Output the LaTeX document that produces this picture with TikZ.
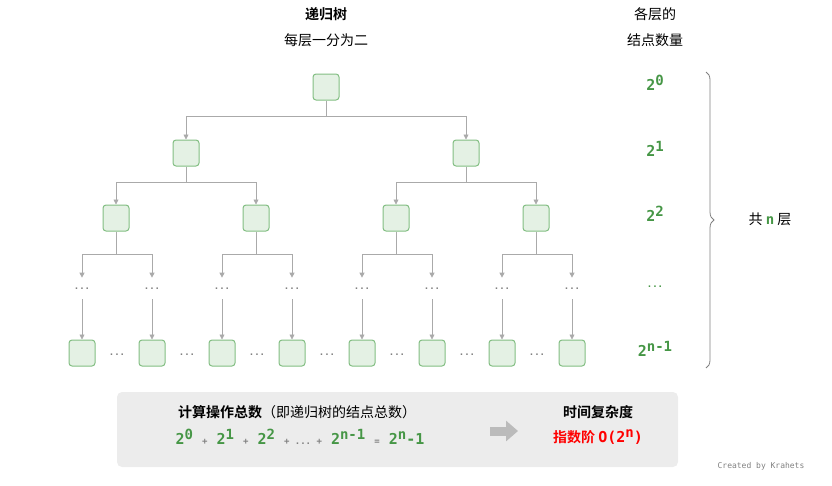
\documentclass[tikz,border=0pt]{standalone}
\usepackage{fontspec}
\setmainfont{Noto Sans CJK SC}
\newfontfamily\cnb{Noto Sans CJK SC Bold}
\newfontfamily\cnr{Noto Sans CJK SC}
\setmonofont{DejaVu Sans Mono}
\usetikzlibrary{positioning}
\usetikzlibrary{arrows.meta}
\usetikzlibrary{decorations.pathreplacing}
\definecolor{boxgreen}{RGB}{228,241,228}
\definecolor{edgegreen}{RGB}{130,190,130}
\definecolor{numgreen}{RGB}{70,150,70}
\definecolor{linegray}{RGB}{170,170,170}
\definecolor{panel}{RGB}{236,236,236}
\newcommand{\sz}{\fontsize{14}{17}\selectfont}
\newcommand{\up}[1]{\raisebox{5pt}{\fontsize{14}{14}\selectfont #1}}
\tikzset{
  treenode/.style={draw=edgegreen,fill=boxgreen,line width=1pt,rounded corners=3pt,minimum width=26pt,minimum height=26pt,inner sep=0pt},
  link/.style={draw=linegray,line width=0.8pt,-{Triangle[width=5pt,length=5pt]}},
  dotstxt/.style={text=gray,font=\ttfamily\bfseries\fontsize{9}{9}\selectfont},
  cnt/.style={text=numgreen,font=\ttfamily\bfseries\fontsize{15}{15}\selectfont}
}
\begin{document}
\begin{tikzpicture}[x=1pt,y=-1pt,font=\sz]
	\useasboundingbox (0,0) rectangle (832,485);
	% headers
	\node [font=\cnb\sz] at (326,14) (title) {递归树};
	\node at (326,40) (subtitle) {每层一分为二};
	\node at (655,14) (hd1) {各层的};
	\node at (655,40) (hd2) {结点数量};

	% tree nodes
	\node [treenode] at (326,87) (n0) {};
	\node [treenode] at (186,153) (n1-1) {};
	\node [treenode] at (466,153) (n1-2) {};
	\foreach \i/\x in {1/116,2/256,3/396,4/536}
		\node [treenode] at (\x,218) (n2-\i) {};
	\foreach \i/\x in {1/82,2/152,3/222,4/292,5/362,6/432,7/502,8/572} {
		\node [dotstxt] at (\x,289) (d-\i) {...};
		\node [treenode] at (\x,353) (b-\i) {};
	}
	\foreach \i/\x in {1/117,2/187,3/257,4/327,5/397,6/467,7/537}
		\node [dotstxt] at (\x,355) (bd-\i) {...};

	% links
	\foreach \p/\c in {n0/n1-1,n0/n1-2,n1-1/n2-1,n1-1/n2-2,n1-2/n2-3,n1-2/n2-4}
		\draw [link] (\p.south) -- ++(0,16) -| (\c.north);
	\foreach \p/\a/\b in {1/1/2,2/3/4,3/5/6,4/7/8} {
		\draw [link] (n2-\p.south) -- ++(0,23) -| ([yshift=7pt]d-\a.north);
		\draw [link] (n2-\p.south) -- ++(0,23) -| ([yshift=7pt]d-\b.north);
	}
	\foreach \i in {1,...,8}
		\draw [link] ([yshift=-6pt]d-\i.south) -- (b-\i.north);

	% counts per level
	\node [cnt] at (655,83) (c0) {2\up{0}};
	\node [cnt] at (655,149) (c1) {2\up{1}};
	\node [cnt] at (655,214) (c2) {2\up{2}};
	\node [dotstxt,text=numgreen] at (655,287) (c3) {...};
	\node [cnt] at (655,349) (c4) {2\up{n-1}};
	\draw [decorate,decoration={brace,amplitude=8pt},draw=gray,line width=0.8pt] (706,72) -- (706,368);
	\node at (770,219) (levels) {共 \textcolor{numgreen}{\ttfamily\bfseries n} 层};

	% summary panel
	\fill [panel,rounded corners=5pt] (117,392) rectangle (678,467);
	\node [font=\cnb\sz] at (297,412) (sumlbl) {计算操作总数{\cnr（即递归树的结点总数）}};
	\node [cnt] at (300,437) (sumeq) {2\up{0} \textcolor{gray}{\small +} 2\up{1} \textcolor{gray}{\small +} 2\up{2} \textcolor{gray}{\small + ... +} 2\up{n-1} \textcolor{gray}{\small =} 2\up{n}-1};
	\draw [line width=9pt,draw=linegray!80,-{Triangle[width=20pt,length=12pt]}] (490,431) -- (518,431);
	\node [font=\cnb\sz] at (598,412) (tclbl) {时间复杂度};
	\node [text=red,font=\cnb\sz] at (598,437) (tcval) {指数阶 {\ttfamily\bfseries\fontsize{15}{15}\selectfont O(2\up{n})}};
	\node [text=gray,font=\ttfamily\fontsize{8}{8}\selectfont] at (761,466) (credit) {Created by Krahets};
\end{tikzpicture}
\end{document}
